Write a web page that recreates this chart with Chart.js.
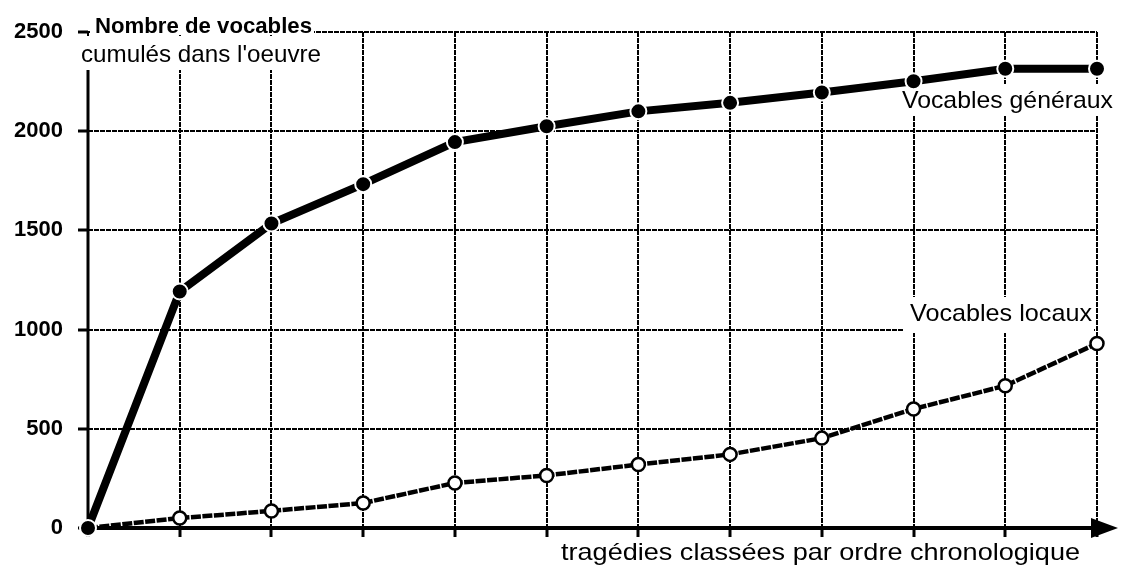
<!DOCTYPE html>
<html>
<head>
<meta charset="utf-8">
<script src="https://cdn.jsdelivr.net/npm/chart.js@4/dist/chart.umd.min.js"></script>
<style>
  html, body { margin: 0; padding: 0; background: #fff; }
  #wrap { width: 1124px; height: 565px; }
</style>
</head>
<body>
<div id="wrap"><canvas id="myChart" width="1124" height="565"></canvas></div>
<script>
// tragedies in chronological order (no names printed on the axis)
var tragedies = ['0', '1', '2', '3', '4', '5', '6', '7', '8', '9', '10', '11'];
// cumulated vocabulary
var vocablesGeneraux = [0, 1192, 1535, 1733, 1945, 2025, 2100, 2143, 2195, 2252, 2315, 2315];
var vocablesLocaux = [0, 50, 86, 126, 227, 265, 320, 371, 453, 600, 717, 930];
var yTicks = [0, 500, 1000, 1500, 2000, 2500];

var FONT = '"Liberation Sans", Arial, Helvetica, sans-serif';

// text stretched horizontally to the width it has in the scan
function wideText(ctx, txt, x, y, font, width) {
    ctx.save();
    ctx.font = font;
    ctx.fillStyle = '#000';
    ctx.textAlign = 'left';
    ctx.textBaseline = 'alphabetic';
    var w = ctx.measureText(txt).width;
    ctx.translate(x, y);
    ctx.scale(width / w, 1);
    ctx.fillText(txt, 0, 0);
    ctx.restore();
}

function whiteBox(ctx, box) {
    ctx.save();
    ctx.fillStyle = '#fff';
    ctx.fillRect(box[0], box[1], box[2], box[3]);
    ctx.restore();
}

var decorPlugin = {
    id: 'decor',
    beforeDatasetsDraw: function(chart) {
        var ctx = chart.ctx;
        var a = chart.chartArea;
        var y0 = chart.scales.y.getPixelForValue(0);

        // labels sitting on the grid
        whiteBox(ctx, [90, 4, 224, 31]);
        wideText(ctx, 'Nombre de vocables', 95, 33, 'bold 22px ' + FONT, 217);
        whiteBox(ctx, [76, 36, 252, 34]);
        wideText(ctx, "cumulés dans l'oeuvre", 81, 62, '24px ' + FONT, 240);
        whiteBox(ctx, [898, 84, 222, 32]);
        wideText(ctx, 'Vocables généraux', 902, 108, '24px ' + FONT, 211);
        whiteBox(ctx, [904, 297, 190, 36]);
        wideText(ctx, 'Vocables locaux', 910, 321, '24px ' + FONT, 182);

        // axes
        ctx.save();
        ctx.strokeStyle = '#000';
        ctx.lineWidth = 3;
        ctx.beginPath();
        ctx.moveTo(a.left, 70);
        ctx.lineTo(a.left, y0);
        ctx.stroke();

        ctx.lineWidth = 4;
        ctx.beginPath();
        ctx.moveTo(a.left, y0);
        ctx.lineTo(a.right + 2, y0);
        ctx.stroke();

        // arrow head
        ctx.fillStyle = '#000';
        ctx.beginPath();
        ctx.moveTo(a.right - 6, y0 - 10);
        ctx.lineTo(a.right + 21, y0);
        ctx.lineTo(a.right - 6, y0 + 10);
        ctx.closePath();
        ctx.fill();
        ctx.restore();

        // x axis title
        wideText(ctx, 'tragédies classées par ordre chronologique', 561, 560, '24px ' + FONT, 519);
    }
};

var ctx = document.getElementById('myChart');
var myChart = new Chart(ctx, {
    type: 'line',
    data: {
        labels: tragedies,
        datasets: [{
            label: 'Vocables généraux',
            data: vocablesGeneraux,
            borderColor: '#000',
            borderWidth: 8,
            pointRadius: 8,
            pointBackgroundColor: '#000',
            pointBorderColor: '#fff',
            pointBorderWidth: 2,
            tension: 0,
            clip: false
        }, {
            label: 'Vocables locaux',
            data: vocablesLocaux,
            borderColor: '#000',
            borderWidth: 4.5,
            borderDash: [10, 1.5],
            pointRadius: 6.5,
            pointBackgroundColor: '#fff',
            pointBorderColor: '#000',
            pointBorderWidth: 2.5,
            tension: 0,
            clip: false
        }]
    },
    options: {
        responsive: false,
        animation: false,
        layout: { padding: { top: 32, right: 27, left: 0, bottom: 0 } },
        plugins: {
            legend: { display: false },
            tooltip: { enabled: false }
        },
        scales: {
            x: {
                type: 'category',
                offset: false,
                grid: {
                    color: '#000',
                    lineWidth: 2,
                    drawTicks: true,
                    tickLength: 9,
                    tickWidth: 3,
                    tickColor: '#000',
                    tickBorderDash: []
                },
                border: { display: false, dash: [5, 1] },
                ticks: { display: false },
                afterFit: function(scale) { scale.height = 37; }
            },
            y: {
                min: 0,
                max: 2500,
                afterBuildTicks: function(scale) {
                    scale.ticks = yTicks.map(function(v) { return { value: v }; });
                },
                grid: {
                    color: '#000',
                    lineWidth: 2,
                    drawTicks: true,
                    tickLength: 10,
                    tickWidth: 3,
                    tickColor: '#000',
                    tickBorderDash: []
                },
                border: { display: false, dash: [5, 1] },
                ticks: {
                    padding: 15,
                    color: '#000',
                    font: { family: FONT, size: 22, weight: 'bold' },
                    callback: function(v) { return String(v); }
                },
                afterFit: function(scale) { scale.width = 88; }
            }
        }
    },
    plugins: [decorPlugin]
});
</script>
</body>
</html>
